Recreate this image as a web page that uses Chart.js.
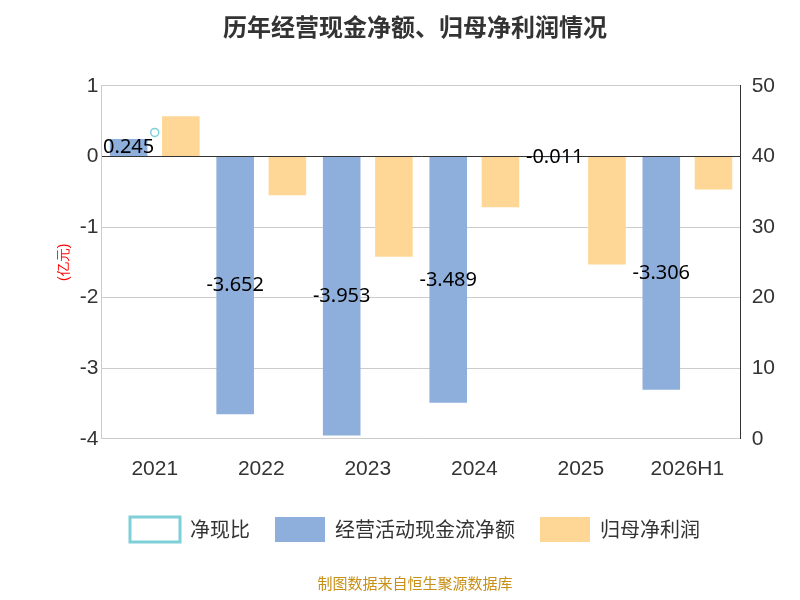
<!DOCTYPE html>
<html><head><meta charset="utf-8">
<script src="https://cdn.jsdelivr.net/npm/chart.js@4/dist/chart.umd.min.js"></script>
<style>body{margin:0;background:#fff}#wrap{width:800px;height:600px;position:relative}</style>
</head><body><div id="wrap"><canvas id="myChart" width="800" height="600"></canvas></div>
<script>
const years = ['2021', '2022', '2023', '2024', '2025', '2026H1'];
const cashFlow = [0.245, -3.652, -3.953, -3.489, -0.011, -3.306];
const netProfit = [0.57, -0.55, -1.42, -0.72, -1.53, -0.47];
const cashRatio = [0.34, null, null, null, null, null];

const labelPlugin = {
  id: 'labels',
  afterDatasetsDraw(chart) {
    const c = chart.ctx;
    const meta = chart.getDatasetMeta(0);
    c.save();
    c.font = '20px "Noto Sans", sans-serif';
    c.fillStyle = '#000';
    c.textAlign = 'center';
    c.textBaseline = 'middle';
    meta.data.forEach(function (bar, i) {
      const y = (bar.y + bar.base) / 2;
      c.fillText(cashFlow[i].toString(), bar.x, y);
    });
    c.restore();
  }
};

new Chart(document.getElementById('myChart'), {
  data: {
    labels: years,
    datasets: [{
      type: 'bar', label: '经营活动现金流净额', data: cashFlow,
      backgroundColor: '#8eaedb', yAxisID: 'y', order: 2
    }, {
      type: 'bar', label: '归母净利润', data: netProfit,
      backgroundColor: '#fed796', yAxisID: 'y', order: 2
    }, {
      type: 'line', label: '净现比', data: cashRatio, yAxisID: 'y',
      borderColor: '#7fcfd8', backgroundColor: '#fff', pointRadius: 4,
      pointBorderWidth: 1.5, order: 1
    }]
  },
  options: {
    responsive: false,
    animation: false,
    layout: { padding: { left: 52, right: 22, top: 10, bottom: 8 } },
    datasets: { bar: { barPercentage: 0.72, categoryPercentage: 0.98 } },
    plugins: {
      title: {
        display: true, text: '历年经营现金净额、归母净利润情况', color: '#333',
        font: { size: 24, weight: 'bold', family: '"Noto Sans CJK SC"' },
        padding: { top: 2, bottom: 45 }
      },
      legend: {
        position: 'bottom',
        sort: function (a, b) { return a.datasetIndex - b.datasetIndex; },
        labels: {
          font: { size: 20, family: '"Noto Sans CJK SC"' }, color: '#333',
          padding: 25, boxWidth: 50, boxHeight: 25
        }
      },
      subtitle: {
        display: true, position: 'bottom', text: '制图数据来自恒生聚源数据库',
        color: '#c89016', font: { size: 15, family: '"Noto Sans CJK SC"' },
        padding: { top: 22, bottom: 0 }
      },
      tooltip: { enabled: false }
    },
    scales: {
      x: {
        grid: { display: false },
        border: { display: false },
        ticks: { color: '#333', font: { size: 21 }, padding: 10 }
      },
      y: {
        min: -4, max: 1,
        ticks: { stepSize: 1, color: '#333', font: { size: 21 } },
        grid: {
          color: function (ctx) { return ctx.tick.value === 0 ? '#333' : '#ccc'; },
          drawTicks: false
        },
        border: { color: '#ccc' },
        title: { display: true, text: '(亿元)', color: 'red', font: { size: 14 } }
      },
      y1: {
        position: 'right', min: 0, max: 50,
        ticks: { stepSize: 10, color: '#333', font: { size: 21 } },
        grid: { display: false },
        border: { color: '#333' }
      }
    }
  },
  plugins: [labelPlugin]
});
</script></body></html>
